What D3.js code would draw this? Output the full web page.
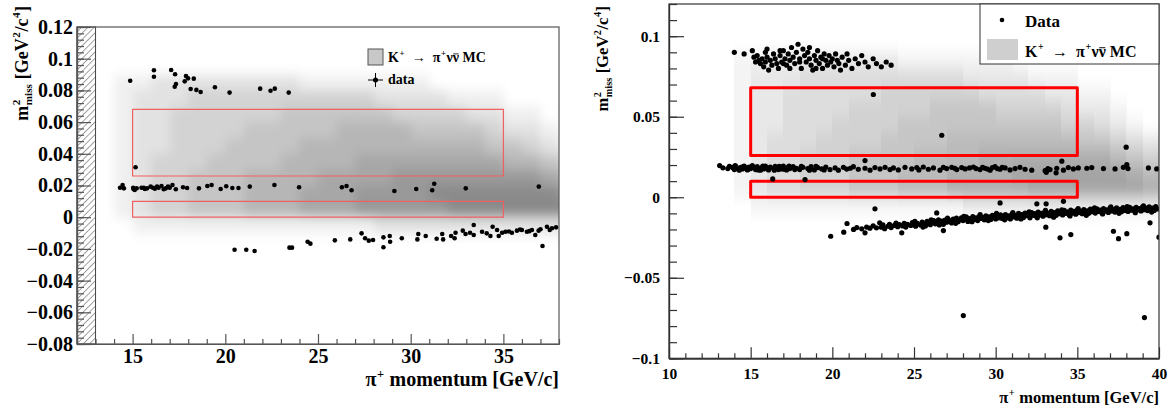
<!DOCTYPE html>
<html><head><meta charset="utf-8">
<script src="https://cdn.jsdelivr.net/npm/d3@7"></script>
<style>
body{margin:0;background:#fff}
text{font-family:'Liberation Serif','DejaVu Serif',serif !important;font-weight:700;white-space:pre}
</style></head><body>
<svg id="c" width="1171" height="410" font-family="Liberation Serif"></svg>
<script>
// m2miss vs pi+ momentum, K+ -> pi+ nu nubar MC (grey) with data points, two panels

// MC density, 1 GeV columns (bin start) x 0.01 rows (bin start), level 0..8
const mcP = [13,14,15,16,17,18,19,20,21,22,23,24,25,26,27,28,29,30,31,32,33,34,35,36,37,38,39];
const mcM = [0.09,0.08,0.07,0.06,0.05,0.04,0.03,0.02,0.01,0.00,-0.01];
const mcLevel = [
  [0,0,0,0,0,0,0,0,0,0,0],
  [0,1,1,1,1,1,1,1,1,1,0],
  [0,1,2,2,2,2,2,2,2,2,1],
  [0,2,2,2,2,2,3,3,3,3,1],
  [0,2,2,3,3,3,3,3,3,3,1],
  [0,2,3,3,3,3,3,4,4,4,1],
  [0,2,3,3,3,3,4,4,4,4,1],
  [0,2,3,3,3,4,4,4,4,4,1],
  [0,2,3,3,4,4,4,5,5,5,1],
  [0,2,3,3,4,4,4,5,5,5,1],
  [0,2,3,4,4,4,5,5,5,5,1],
  [0,1,3,4,4,5,5,5,6,6,1],
  [0,1,3,4,4,5,5,6,6,6,1],
  [0,1,3,4,5,5,5,6,6,6,1],
  [0,1,3,4,5,5,6,6,7,7,1],
  [0,1,2,4,5,5,6,6,7,7,2],
  [0,1,2,3,5,5,6,7,7,7,2],
  [0,1,2,3,4,5,6,7,7,7,2],
  [0,0,2,3,4,5,6,7,8,7,2],
  [0,0,1,3,4,5,6,7,8,8,2],
  [0,0,1,2,4,5,6,7,8,8,2],
  [0,0,1,2,3,4,6,7,8,8,2],
  [0,0,0,1,2,4,5,7,8,8,2],
  [0,0,0,1,2,3,5,7,8,8,2],
  [0,0,0,0,1,2,4,6,8,8,2],
  [0,0,0,0,0,1,3,5,7,8,2],
  [0,0,0,0,0,0,2,4,6,7,2]
];

// signal regions
const boxP = [15,35];
const boxM = [[0.026,0.068],[0,0.01]];

const xTicksL = [15,20,25,30,35];
const yTicksL = [-0.08,-0.06,-0.04,-0.02,0,0.02,0.04,0.06,0.08,0.1,0.12];
const xTicksR = [10,15,20,25,30,35,40];
const yTicksR = [-0.1,-0.05,0,0.05,0.1];

// left panel data [p, m2miss]
const dataL = [
  [14.87,.0861],[16.15,.0927],[16.15,.0886],[17.08,.0929],[17.29,.0902],[17.88,.0891],[18.30,.0874],[17.81,.0857],
  [17.99,.0876],[17.34,.0840],[17.27,.0823],[18.13,.0809],[18.44,.0803],[18.67,.0790],[19.44,.0820],[20.23,.0786],
  [21.88,.0811],[22.44,.0798],[22.67,.0811],[23.42,.0786],[15.16,.0315],
  [14.32,.0186],[14.46,.0203],[14.53,.0182],[15.03,.0186],[15.11,.0172],[15.22,.0182],[15.48,.0186],[15.66,.0178],
  [15.78,.0182],[15.97,.0193],[16.20,.0180],[16.32,.0193],[16.56,.0197],[16.68,.0176],[16.79,.0182],[16.91,.0193],
  [17.15,.0203],[17.33,.0176],[17.72,.0189],[17.94,.0184],[18.58,.0182],[19.03,.0197],[19.26,.0203],[19.75,.0178],
  [20.05,.0195],[20.38,.0184],[20.71,.0184],[21.32,.0193],[22.65,.0203],[23.98,.0189],[26.29,.0189],[26.54,.0197],
  [26.81,.0170],[29.12,.0165],[30.30,.0178],[31.16,.0170],[31.27,.0211],[32.97,.0182],[36.91,.0193],
  [15.05,.0178],[15.60,.0186],[16.40,.0186],[17.00,.0186],[16.10,.0186],
  [20.50,-.0205],[21.13,-.0205],[21.58,-.0213],[23.46,-.0192],[23.60,-.0192],[24.44,-.0155],[24.59,-.0167],[25.91,-.0146],
  [26.74,-.0140],[27.35,-.0102],[27.54,-.0133],[27.74,-.0148],[27.97,-.0144],[28.53,-.0127],[28.53,-.0190],[28.87,-.0119],
  [28.89,-.0155],[29.52,-.0133],[30.41,-.0106],[30.36,-.0140],[30.81,-.0119],[31.40,-.0136],[31.70,-.0106],[31.75,-.0140],
  [32.18,-.0119],[32.42,-.0098],[32.37,-.0133],[32.81,-.0085],[32.96,-.0106],[33.40,-.0049],[33.40,-.0112],[33.85,-.0092],
  [34.30,-.0119],[34.42,-.0060],[34.66,-.0081],[34.75,-.0119],[34.93,-.0098],[35.11,-.0092],[35.46,-.0098],[35.73,-.0085],
  [36.00,-.0081],[36.27,-.0092],[36.54,-.0081],[36.72,-.0112],[36.90,-.0085],[37.11,-.0182],[37.35,-.0060],[37.62,-.0070],
  [37.84,-.0064],[35.30,-.0090],[35.90,-.0078],[36.40,-.0088],[37.00,-.0076],[37.50,-.0080],[33.20,-.0098],[34.10,-.0102]
];

// right panel data [p, m2miss]
const dataR = [
  // upper band
  [14.0,.090],[14.6,.089],[15.1,.091],[15.2,.087],[15.3,.084],[15.4,.088],[15.5,.085],[15.6,.083],[15.7,.086],[15.8,.081],
  [15.9,.084],[16.0,.087],[16.1,.079],[16.2,.085],[16.3,.082],[16.4,.089],[16.5,.086],[16.6,.083],[16.7,.080],[16.8,.088],
  [16.9,.084],[17.0,.091],[17.1,.086],[17.2,.082],[17.3,.089],[17.4,.085],[17.5,.093],[17.6,.087],[17.7,.083],[17.8,.090],
  [17.9,.095],[18.0,.086],[18.1,.080],[18.2,.092],[18.3,.088],[18.4,.084],[18.5,.090],[18.6,.086],[18.7,.082],[18.8,.079],
  [18.9,.088],[19.0,.085],[19.1,.091],[19.2,.083],[19.3,.087],[19.4,.080],[19.5,.089],[19.6,.085],[19.7,.082],[19.8,.088],
  [19.9,.084],[20.0,.086],[20.1,.081],[20.2,.089],[20.3,.085],[20.4,.083],[20.6,.087],[20.8,.082],[20.9,.089],[21.0,.085],
  [21.2,.080],[21.4,.086],[21.6,.083],[21.8,.088],[22.0,.084],[22.2,.081],[22.5,.086],[22.7,.083],[23.0,.081],[23.3,.084],
  [23.6,.082],[16.0,.092],[16.8,.091],[17.4,.080],[18.6,.093],[19.0,.080],[15.9,.090],[17.0,.083],[18.0,.084],[19.4,.086],[20.5,.079],
  // isolated
  [22.51,.0638],[26.70,.0385],[37.99,.0311],
  // middle band
  [13.1,.0197],[13.3,.0183],[13.6,.0178],[13.9,.0185],[14.0,.0172],[14.1,.0190],[14.2,.0180],[14.3,.0168],[14.4,.0186],[14.5,.0176],
  [14.6,.0193],[14.7,.0182],[14.8,.0170],[14.9,.0188],[15.0,.0178],[15.1,.0196],[15.2,.0184],[15.3,.0172],[15.4,.0190],[15.5,.0180],
  [15.6,.0168],[15.7,.0186],[15.8,.0176],[15.9,.0194],[16.0,.0182],[16.1,.0170],[16.2,.0188],[16.35,.0114],[16.4,.0178],[16.5,.0192],
  [16.6,.0180],[16.7,.0172],[16.8,.0188],[16.9,.0176],[17.0,.0194],[17.1,.0182],[17.2,.0170],[17.3,.0186],[17.4,.0178],[17.6,.0190],
  [17.8,.0180],[18.0,.0172],[18.33,.0110],[18.2,.0186],[18.5,.0178],[18.7,.0190],[18.9,.0170],[19.1,.0184],[19.35,.0176],[19.6,.0188],
  [19.86,.0172],[20.17,.0182],[20.37,.0168],[20.68,.0186],[20.88,.0175],[21.1,.0180],[21.29,.0190],[21.59,.0174],[22.0,.0228],[22.0,.0180],
  [22.31,.0168],[22.61,.0184],[22.92,.0176],[23.23,.0186],[23.53,.0172],[23.74,.0182],[24.04,.0170],[24.45,.0186],[24.86,.0176],[25.17,.0184],
  [25.3,.0170],[25.57,.0188],[25.88,.0174],[26.19,.0182],[26.59,.0168],[26.8,.0186],[27.0,.0178],[27.31,.0186],[27.5,.0180],[27.62,.0172],
  [27.92,.0184],[28.13,.0176],[28.4,.0182],[28.64,.0188],[28.8,.0178],[29.04,.0172],[29.2,.0186],[29.35,.0180],[29.5,.0175],[29.66,.0168],
  [29.8,.0184],[29.96,.0190],[30.1,.0178],[30.27,.0174],[30.4,.0186],[30.58,.0182],[30.88,.0170],[31.19,.0178],[31.49,.0186],[31.80,.0174],
  [32.21,.0168],[33.03,.0165],[33.2,.0178],[33.33,.0172],[33.74,.0180],[34.05,.0224],[34.15,.0168],[34.45,.0184],[34.76,.0176],[35.06,.0182],
  [35.58,.0180],[35.88,.0184],[36.60,.0178],[37.31,.0176],[37.82,.0186],[38.03,.0203],[38.1,.0178],[39.35,.0182],[39.86,.0176],
  [33.1,.0155],[33.7,.0152],
  [13.7,.0192],[14.05,.0196],[14.25,.0176],[14.55,.0190],[14.85,.0174],[15.15,.0188],[15.45,.0170],[15.75,.0194],[16.05,.0176],[16.45,.0168],
  [16.75,.0192],[17.05,.0174],[17.35,.0194],[17.7,.0172],[18.1,.0192],[18.6,.0168],[19.0,.0192],[19.5,.0170],
  // lower band
  [19.9,-.0242],[20.7,-.0217],[20.9,-.0163],[21.3,-.0200],[21.5,-.0188],[21.8,-.0196],[22.0,-.0221],[22.1,-.0185],[22.3,-.0192],[22.5,-.0178],
  [22.7,-.0190],[22.9,-.0159],[23.0,-.0186],[23.1,-.0172],[23.2,-.0195],[23.4,-.0180],[23.5,-.0168],[23.6,-.0188],[23.8,-.0175],[23.9,-.0160],
  [24.0,-.0183],[24.1,-.0170],[24.3,-.0178],[24.4,-.0162],[24.5,-.0185],[24.6,-.0168],[24.8,-.0175],[24.9,-.0158],[25.0,-.0170],[25.1,-.0180],
  [25.2,-.0162],[25.4,-.0172],[25.5,-.0155],[25.6,-.0166],[25.7,-.0178],[25.8,-.0150],[25.9,-.0162],[26.0,-.0170],[26.1,-.0155],[26.2,-.0145],
  [26.3,-.0165],[26.4,-.0152],[26.5,-.0140],[26.6,-.0160],[26.7,-.0148],[26.8,-.0168],[26.9,-.0142],[27.0,-.0155],[27.1,-.0138],[27.2,-.0150],
  [27.3,-.0160],[27.4,-.0135],[27.5,-.0147],[27.6,-.0130],[27.7,-.0152],[27.8,-.0140],[27.9,-.0128],[28.0,-.0145],[28.1,-.0135],[28.2,-.0122],
  [28.3,-.0150],[28.4,-.0132],[28.5,-.0140],[28.6,-.0120],[28.7,-.0138],[28.8,-.0128],[28.9,-.0145],[29.0,-.0118],[29.1,-.0132],[29.2,-.0125],
  [29.3,-.0140],[29.4,-.0115],[29.5,-.0130],[29.6,-.0122],[29.7,-.0138],[29.8,-.0112],[29.9,-.0126],[30.0,-.0135],[30.1,-.0118],[30.2,-.0128],
  [30.3,-.0110],[30.4,-.0132],[30.5,-.0120],[30.6,-.0108],[30.7,-.0128],[30.8,-.0115],[30.9,-.0135],[31.0,-.0105],[31.1,-.0122],[31.2,-.0112],
  [31.3,-.0130],[31.4,-.0100],[31.5,-.0118],[31.6,-.0108],[31.7,-.0125],[31.8,-.0098],[31.9,-.0115],[32.0,-.0105],[32.1,-.0128],[32.2,-.0095],
  [32.3,-.0112],[32.4,-.0102],[32.5,-.0120],[32.6,-.0092],[32.7,-.0110],[32.8,-.0100],[32.9,-.0118],[33.0,-.0090],[33.1,-.0108],[33.2,-.0098],
  [33.3,-.0115],[33.4,-.0088],[33.5,-.0105],[33.6,-.0095],[33.7,-.0112],[33.8,-.0085],[33.9,-.0102],[34.0,-.0094],[34.1,-.0110],[34.2,-.0082],
  [34.3,-.0100],[34.4,-.0090],[34.5,-.0108],[34.6,-.0080],[34.7,-.0098],[34.8,-.0088],[34.9,-.0105],[35.0,-.0078],[35.1,-.0095],[35.2,-.0086],
  [35.3,-.0102],[35.4,-.0076],[35.5,-.0092],[35.6,-.0084],[35.7,-.0100],[35.8,-.0074],[35.9,-.0090],[36.0,-.0082],[36.1,-.0098],[36.2,-.0072],
  [36.3,-.0088],[36.4,-.0080],[36.5,-.0096],[36.6,-.0070],[36.7,-.0086],[36.8,-.0078],[36.9,-.0094],[37.0,-.0068],[37.1,-.0085],[37.2,-.0076],
  [37.3,-.0092],[37.4,-.0066],[37.5,-.0083],[37.6,-.0075],[37.7,-.0090],[37.8,-.0065],[37.9,-.0082],[38.0,-.0073],[38.1,-.0088],[38.2,-.0063],
  [38.3,-.0080],[38.4,-.0072],[38.5,-.0086],[38.6,-.0062],[38.7,-.0078],[38.8,-.0070],[38.9,-.0085],[39.0,-.0060],[39.1,-.0077],[39.2,-.0068],
  [39.3,-.0083],[39.4,-.0059],[39.5,-.0075],[39.6,-.0067],[39.7,-.0082],[39.8,-.0058],[39.9,-.0073],
  [25.05,-.0150],[26.05,-.0140],[27.05,-.0130],[28.05,-.0118],[29.05,-.0108],[30.05,-.0100],[31.05,-.0095],[32.05,-.0090],[33.05,-.0082],[34.05,-.0078],
  [35.05,-.0070],[36.05,-.0066],[37.05,-.0060],[38.05,-.0058],[39.05,-.0054],[30.55,-.0140],[32.55,-.0128],[34.55,-.0116],[36.55,-.0104],[38.55,-.0096],
  [25.55,-.0185],[26.55,-.0172],[27.55,-.0162],[28.55,-.0152],[29.55,-.0145],[31.55,-.0135],[33.55,-.0124],[35.55,-.0112],[37.55,-.0100],[39.55,-.0092],
  // outliers
  [22.61,-.0072],[24.25,-.0221],[26.39,-.0097],[26.8,-.0207],[30.27,-.0035],[32.52,-.0041],[33.09,-.0041],[34.15,-.0025],
  [33.07,-.0186],[33.94,-.0252],[34.6,-.0232],[37.21,-.0211],[37.52,-.0257],[38.03,-.0226],[39.45,-.0159],[40.0,-.0248],
  [28.02,-.0735],[39.11,-.0747]
];

const FONT = "'Liberation Serif','DejaVu Serif',serif";
const svg = d3.select('#c');
const defs = svg.append('defs');

const hatch = defs.append('pattern').attr('id','hatch').attr('patternUnits','userSpaceOnUse')
  .attr('width',4.5).attr('height',4.5).attr('patternTransform','rotate(45)');
hatch.append('line').attr('x1',0).attr('y1',0).attr('x2',0).attr('y2',4.5).attr('stroke','#333').attr('stroke-width',0.9);

function fmt(d){ if(Math.abs(d)<1e-9) return '0'; return (d<0?'\u2212':'')+String(+Math.abs(d).toFixed(2)); }

// text with sup/sub pieces, sup+sub stacked like TLatex; {bar:'x'} draws x with an overline
function rich(sel, parts, size, x, y, rot, align){
  const g = sel.append('g').attr('transform',`translate(${x},${y})`+(rot?` rotate(${rot})`:''));
  const inner = g.append('g');
  let cx = 0;
  const put = (t,dx,dy,fs)=> inner.append('text').attr('x',cx+dx).attr('y',dy).attr('font-size',fs)
    .style('font-family',FONT).text(t).node().getComputedTextLength();
  parts.forEach(p=>{
    if(typeof p==='string'){ cx += put(p,0,0,size); return; }
    if(p.bar){
      const w = put(p.bar,0,0,size);
      inner.append('line').attr('x1',cx+0.5).attr('x2',cx+w-0.5).attr('y1',-size*0.58).attr('y2',-size*0.58)
        .attr('stroke','#000').attr('stroke-width',Math.max(0.8,size*0.06));
      cx += w; return;
    }
    const fs=size*0.62; let w=0;
    if(p.sup) w=Math.max(w,put(p.sup,0.5,-size*0.42,fs));
    if(p.sub) w=Math.max(w,put(p.sub,0.5,size*0.24,fs));
    cx += w+1;
  });
  if(align==='end') inner.attr('transform',`translate(${-cx},0)`);
  return g;
}

function panel(o){
  const g = svg.append('g');
  const [x0,x1] = o.x.range(), [y0,y1] = o.y.range();
  defs.append('clipPath').attr('id',o.id+'clip').append('rect').attr('x',x0).attr('y',y1).attr('width',x1-x0).attr('height',y0-y1);
  defs.append('filter').attr('id',o.id+'blur').attr('x','-20%').attr('y','-20%').attr('width','140%').attr('height','140%')
    .append('feGaussianBlur').attr('stdDeviation',o.blur);

  const col = d3.scaleLinear().domain([0,8]).range(['#ffffff',o.dark]).clamp(true);
  const cells = [];
  mcP.forEach((p,i)=> mcM.forEach((m,j)=>{ if(mcLevel[i][j]>0) cells.push({p,m,v:mcLevel[i][j]}); }));
  g.append('g').attr('clip-path',`url(#${o.id}clip)`).append('g').attr('filter',`url(#${o.id}blur)`)
    .selectAll('rect').data(cells).join('rect')
    .attr('x',d=>o.x(d.p)).attr('width',d=>o.x(d.p+1)-o.x(d.p)+0.6)
    .attr('y',d=>o.y(d.m+0.01)).attr('height',d=>o.y(d.m)-o.y(d.m+0.01)+0.6)
    .attr('fill',d=>col(d.v)).attr('shape-rendering','crispEdges');

  if(o.hatch){
    g.append('rect').attr('x',o.x(o.hatch[0])).attr('y',y1).attr('width',o.x(o.hatch[1])-o.x(o.hatch[0])).attr('height',y0-y1)
      .attr('fill','url(#hatch)').attr('stroke','#444').attr('stroke-width',1);
  }

  g.selectAll('rect.box').data(boxM).join('rect').attr('class','box')
    .attr('x',o.x(boxP[0])).attr('width',o.x(boxP[1])-o.x(boxP[0]))
    .attr('y',d=>o.y(d[1])).attr('height',d=>o.y(d[0])-o.y(d[1]))
    .attr('fill','none').attr('stroke',o.boxColor).attr('stroke-width',o.boxW).attr('stroke-linejoin','round');

  g.append('g').attr('clip-path',`url(#${o.id}clip)`).selectAll('circle').data(o.data).join('circle')
    .attr('cx',d=>o.x(d[0])).attr('cy',d=>o.y(d[1])).attr('r',o.r).attr('fill','#000');

  // axes, ticks pointing inward
  const [dx0,dx1] = o.x.domain(), [dy0,dy1] = o.y.domain();
  const xMinor = d3.range(Math.ceil(dx0), dx1+1e-9, 1).filter(v=>!o.xTicks.includes(v));
  const yMinor = d3.range(0, Math.round((dy1-dy0)/o.yStep)+1).map(i=>+(dy0+i*o.yStep).toFixed(4));
  const bx = g.append('g').attr('transform',`translate(0,${y0})`);
  bx.append('g').call(d3.axisBottom(o.x).tickValues(xMinor).tickSize(-o.minor).tickSizeOuter(0).tickFormat(''));
  bx.append('g').call(d3.axisBottom(o.x).tickValues(o.xTicks).tickSize(-o.major).tickSizeOuter(0).tickPadding(o.xPad).tickFormat(d3.format('d')));
  const ly = g.append('g').attr('transform',`translate(${x0},0)`);
  ly.append('g').call(d3.axisLeft(o.y).tickValues(yMinor).tickSize(-o.minorY).tickSizeOuter(0).tickFormat(''));
  ly.append('g').call(d3.axisLeft(o.y).tickValues(o.yTicks).tickSize(-o.majorY).tickSizeOuter(0).tickPadding(o.yPad).tickFormat(fmt));
  g.selectAll('.domain, .tick line').attr('stroke',o.axis).attr('stroke-width',1.2);
  g.selectAll('g[font-family]').attr('font-family',null).attr('font-size',null);
  g.selectAll('.tick text').attr('font-size',o.font).attr('fill','#000').style('font-family',FONT);

  g.append('rect').attr('x',x0).attr('y',y1).attr('width',x1-x0).attr('height',y0-y1)
    .attr('fill','none').attr('stroke',o.axis).attr('stroke-width',1.2);
  return g;
}

const xL = d3.scaleLinear().domain([12,38]).range([77,559]);
const yL = d3.scaleLinear().domain([-0.08,0.12]).range([344,27]);
const xR = d3.scaleLinear().domain([10,40]).range([669,1159]);
const yR = d3.scaleLinear().domain([-0.1,0.12]).range([358.3,4]);

panel({id:'L', x:xL, y:yL, data:dataL, xTicks:xTicksL, yTicks:yTicksL, yStep:0.004,
  dark:'#8a8a8a', blur:'5 6', hatch:[12,13], boxColor:'#f06060', boxW:1.2, r:2.3,
  major:10, minor:5, majorY:14, minorY:7, xPad:5, yPad:4, font:20, axis:'#555'});
panel({id:'R', x:xR, y:yR, data:dataR, xTicks:xTicksR, yTicks:yTicksR, yStep:0.01,
  dark:'#a4a4a4', blur:'0.5 7', hatch:null, boxColor:'#ff0000', boxW:3, r:2.6,
  major:11, minor:5, majorY:15, minorY:8, xPad:10, yPad:9, font:15.5, axis:'#333'});

// titles
const yTitle = ['m',{sup:'2',sub:'miss'},' [GeV',{sup:'2'},'/c',{sup:'4'},']'];
const xTitle = ['\u03c0',{sup:'+'},' momentum [GeV/c]'];
const mcLabel = ['K',{sup:'+'},'  \u2192  \u03c0',{sup:'+'},'\u03bd',{bar:'\u03bd'},' MC'];
rich(svg, xTitle, 20, 559, 386, 0, 'end');
rich(svg, yTitle, 18, 28, 6, -90, 'end');
rich(svg, xTitle, 16.5, 1159, 403, 0, 'end');
rich(svg, yTitle, 16.5, 608, 6, -90, 'end');

// left legend
const lgL = svg.append('g');
lgL.append('rect').attr('x',368).attr('y',49).attr('width',15).attr('height',16).attr('fill','#c8c8c8').attr('stroke','#555');
rich(lgL, mcLabel, 14, 388, 62, 0, 'start');
lgL.append('line').attr('x1',368).attr('x2',383).attr('y1',80).attr('y2',80).attr('stroke','#000');
lgL.append('line').attr('x1',375.5).attr('x2',375.5).attr('y1',73).attr('y2',87).attr('stroke','#000');
lgL.append('circle').attr('cx',375.5).attr('cy',80).attr('r',2.5);
lgL.append('text').attr('x',388).attr('y',84).attr('font-size',14).style('font-family',FONT).text('data');

// right legend
const lgR = svg.append('g');
lgR.append('rect').attr('x',980).attr('y',4).attr('width',179).attr('height',60).attr('fill','#fff').attr('stroke','#333');
lgR.append('circle').attr('cx',1002).attr('cy',20).attr('r',2.3);
lgR.append('text').attr('x',1025).attr('y',27).attr('font-size',17).style('font-family',FONT).text('Data');
lgR.append('rect').attr('x',987).attr('y',39).attr('width',31).attr('height',21).attr('fill','#cfcfcf');
rich(lgR, mcLabel, 16, 1025, 57, 0, 'start');
</script></body></html>
